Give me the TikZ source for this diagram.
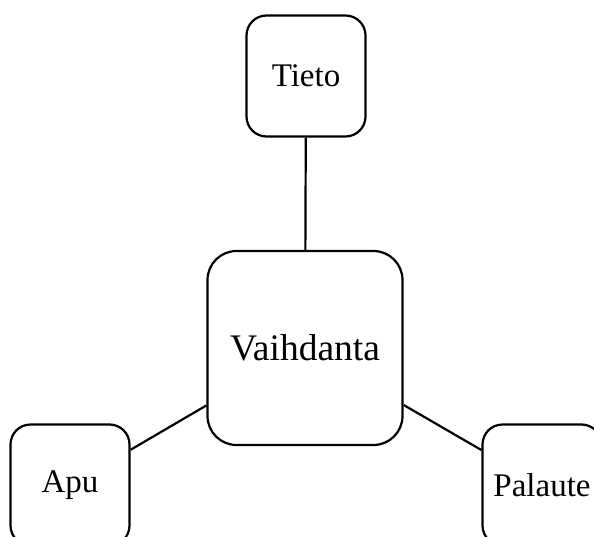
\documentclass[tikz,border=0pt]{standalone}
\usepackage{fontspec}
\setmainfont{Liberation Serif}
\begin{document}
\begin{tikzpicture}[x=1pt,y=1pt,
  box/.style={draw, line width=2.2pt, rounded corners=20pt, inner sep=0pt,
    minimum width=119pt, minimum height=121pt, font=\fontsize{33}{38}\selectfont},
  bigbox/.style={box, rounded corners=29pt, minimum width=195pt, minimum height=194pt,
    font=\fontsize{37.5}{43}\selectfont},
  conn/.style={line width=2.2pt}]
\useasboundingbox (0,0) rectangle (594,-537);
\node[box] (tieto) at (306,-76) {Tieto};
\node[bigbox] (vaih) at (305,-348) {Vaihdanta};
\node[box] (apu) at (70,-485) {Apu};
\node[box] (pal) at (542,-485) {Palaute};
\draw[conn] (tieto) -- (vaih);
\draw[conn] (vaih) -- (apu);
\draw[conn] (vaih) -- (pal);
\end{tikzpicture}
\end{document}
